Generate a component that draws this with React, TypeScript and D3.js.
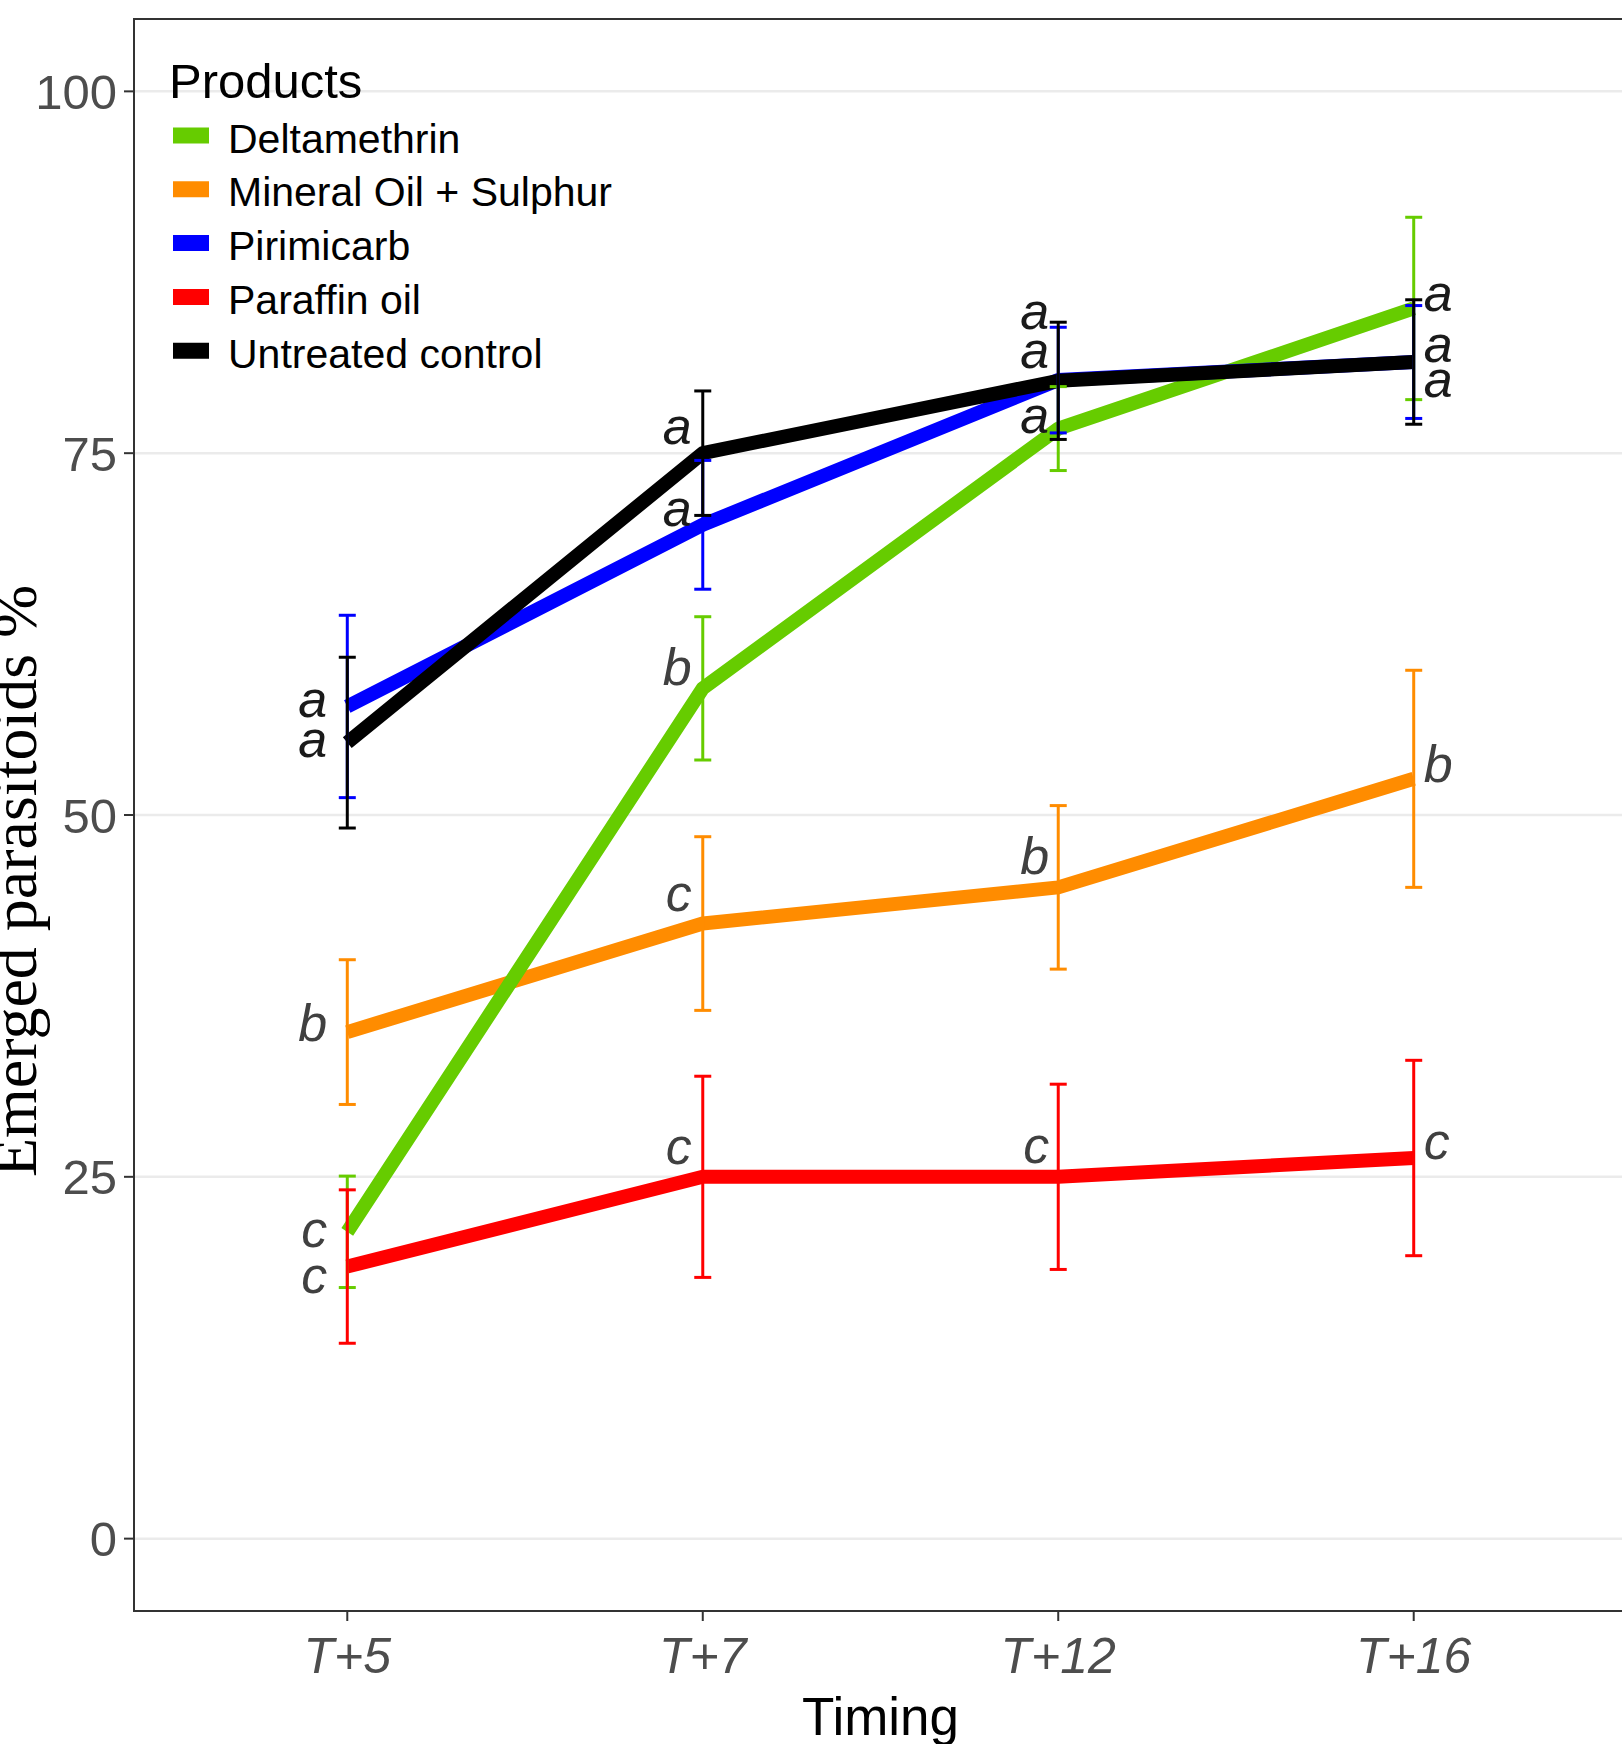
import React from "react";
import * as d3 from "d3";

const timings = ["T+5", "T+7", "T+12", "T+16"];
const products = ["Deltamethrin", "Mineral Oil + Sulphur", "Pirimicarb", "Paraffin oil", "Untreated control"];
const productColors = ["#66CC00", "#FF8C00", "#0000FF", "#FF0000", "#000000"];

const deltamethrinMean = [21.2, 58.75, 76.7, 85.0];
const deltamethrinSE = [3.85, 4.95, 2.9, 6.3];
const mineralMean = [35.0, 42.5, 45.0, 52.5];
const mineralSE = [5.0, 6.0, 5.65, 7.5];
const pirimicarbMean = [57.5, 70.05, 80.05, 81.3];
const pirimicarbSE = [6.3, 4.45, 3.65, 3.9];
const paraffinMean = [18.8, 25.0, 25.0, 26.3];
const paraffinSE = [5.3, 6.95, 6.4, 6.75];
const untreatedMean = [55.0, 75.0, 80.0, 81.3];
const untreatedSE = [5.9, 4.3, 4.05, 4.3];

// significance letters and the value at which each letter's baseline sits
const deltamethrinLetters = ["c", "b", "a", "a"];
const deltamethrinLetterAt = [20.17, 59.0, 76.4, 84.8];
const mineralLetters = ["b", "c", "b", "b"];
const mineralLetterAt = [34.4, 43.4, 45.9, 52.3];
const pirimicarbLetters = ["a", "a", "a", "a"];
const pirimicarbLetterAt = [56.8, 70.0, 83.6, 78.9];
const paraffinLetters = ["c", "c", "c", "c"];
const paraffinLetterAt = [16.95, 25.9, 25.95, 26.2];
const untreatedLetters = ["a", "a", "a", "a"];
const untreatedLetterAt = [54.0, 75.6, 80.9, 81.3];

const yTicks = [0, 25, 50, 75, 100];

const means = [deltamethrinMean, mineralMean, pirimicarbMean, paraffinMean, untreatedMean];
const ses = [deltamethrinSE, mineralSE, pirimicarbSE, paraffinSE, untreatedSE];
const letters = [deltamethrinLetters, mineralLetters, pirimicarbLetters, paraffinLetters, untreatedLetters];
const letterAt = [deltamethrinLetterAt, mineralLetterAt, pirimicarbLetterAt, paraffinLetterAt, untreatedLetterAt];

const W = 1622;
const H = 1744;
const panel = { left: 134, right: 1627, top: 19, bottom: 1611 };
const SANS = "'Liberation Sans', Arial, Helvetica, sans-serif";
const SERIF = "'Liberation Serif', 'Times New Roman', serif";
const drawOrder = [1, 0, 2, 3, 4];
const labelDx = [-20, -11, -9, 10];

export default function App() {
  const x = d3.scalePoint<string>().domain(timings).range([panel.left, panel.right]).padding(0.6);
  const y = d3.scaleLinear().domain([-5, 105]).range([panel.bottom, panel.top]);
  const line = d3
    .line<number>()
    .x((_, i) => x(timings[i]) as number)
    .y((v) => y(v));

  return (
    <svg
      width={W}
      height={H}
      viewBox={`0 0 ${W} ${H}`}
      style={{ position: "absolute", left: 0, top: 0, background: "#fff" }}
    >
      <rect x={0} y={0} width={W} height={H} fill="#fff" />
      {/* grid */}
      {yTicks.map((t) => (
        <line key={"g" + t} x1={panel.left} x2={panel.right} y1={y(t)} y2={y(t)} stroke="#ebebeb" strokeWidth={2.5} />
      ))}
      {/* lines */}
      {drawOrder.map((si) => (
        <path
          key={"l" + si}
          d={line(means[si]) || ""}
          fill="none"
          stroke={productColors[si]}
          strokeWidth={14}
          strokeLinejoin="round"
          strokeLinecap="butt"
        />
      ))}
      {/* error bars */}
      {drawOrder.map((si) =>
        means[si].map((m, i) => {
          const cx = x(timings[i]) as number;
          const y1 = y(m + ses[si][i]);
          const y2 = y(m - ses[si][i]);
          const c = productColors[si];
          return (
            <g key={"e" + si + "-" + i} stroke={c} strokeWidth={3}>
              <line x1={cx} x2={cx} y1={y1} y2={y2} />
              <line x1={cx - 8.5} x2={cx + 8.5} y1={y1} y2={y1} />
              <line x1={cx - 8.5} x2={cx + 8.5} y1={y2} y2={y2} />
            </g>
          );
        })
      )}
      {/* letters */}
      {drawOrder.map((si) =>
        letters[si].map((L, i) => {
          const cx = (x(timings[i]) as number) + labelDx[i];
          return (
            <text
              key={"t" + si + "-" + i}
              x={cx}
              y={y(letterAt[si][i])}
              textAnchor={labelDx[i] < 0 ? "end" : "start"}
              fontFamily={SANS}
              fontStyle="italic"
              fontSize={52}
              fill={L === "a" ? "#1a1a1a" : "#404040"}
            >
              {L}
            </text>
          );
        })
      )}
      {/* panel border */}
      <rect
        x={panel.left}
        y={panel.top}
        width={panel.right - panel.left}
        height={panel.bottom - panel.top}
        fill="none"
        stroke="#333"
        strokeWidth={2}
      />
      {/* y axis */}
      {yTicks.map((t) => (
        <g key={"yt" + t}>
          <line x1={panel.left - 10} x2={panel.left} y1={y(t)} y2={y(t)} stroke="#333" strokeWidth={2} />
          <text
            x={panel.left - 17}
            y={y(t)}
            dy="0.36em"
            textAnchor="end"
            fontFamily={SANS}
            fontSize={49}
            fill="#4d4d4d"
          >
            {t}
          </text>
        </g>
      ))}
      {/* x axis */}
      {timings.map((t) => (
        <g key={"xt" + t}>
          <line
            x1={x(t) as number}
            x2={x(t) as number}
            y1={panel.bottom}
            y2={panel.bottom + 10}
            stroke="#333"
            strokeWidth={2}
          />
          <text
            x={x(t) as number}
            y={1673}
            textAnchor="middle"
            fontFamily={SANS}
            fontStyle="italic"
            fontSize={50}
            fill="#4d4d4d"
          >
            {t}
          </text>
        </g>
      ))}
      <text x={(panel.left + panel.right) / 2} y={1735} textAnchor="middle" fontFamily={SANS} fontSize={53} fill="#000">
        Timing
      </text>
      <text
        transform={`translate(36, 1177) rotate(-90)`}
        textAnchor="start"
        fontFamily={SERIF}
        fontSize={64}
        fill="#000"
      >
        Emerged parasitoids %
      </text>
      {/* legend */}
      <text x={169} y={98} fontFamily={SANS} fontSize={49} fill="#000">
        Products
      </text>
      {products.map((p, i) => {
        const by = 152.5 + i * 53.8;
        return (
          <g key={"lg" + p}>
            <line x1={173} x2={209} y1={by - 17} y2={by - 17} stroke={productColors[i]} strokeWidth={16} />
            <text x={228} y={by} fontFamily={SANS} fontSize={41} fill="#000">
              {p}
            </text>
          </g>
        );
      })}
    </svg>
  );
}
